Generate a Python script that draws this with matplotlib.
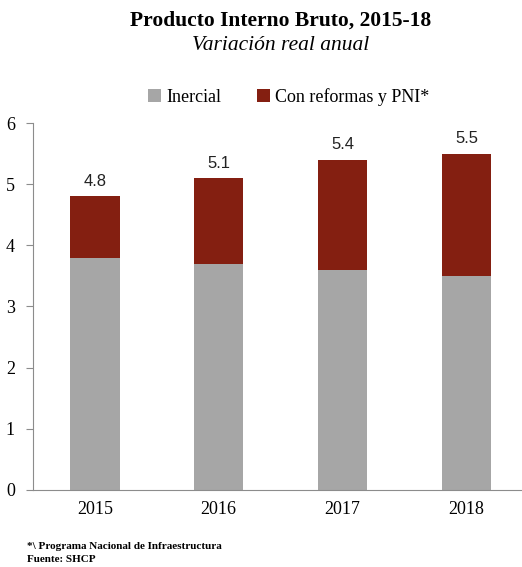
import matplotlib.pyplot as plt
import numpy as np

years = ['2015', '2016', '2017', '2018']
inercial = [3.8, 3.7, 3.6, 3.5]
total = [4.8, 5.1, 5.4, 5.5]
reformas = [t - i for t, i in zip(total, inercial)]

gray = '#a6a6a6'
red = '#841f11'
axis_col = '#8c8c8c'

plt.rcParams['font.family'] = 'Liberation Serif'

fig = plt.figure(figsize=(5.22, 5.67), dpi=100)
ax = fig.add_axes([0.063, 0.136, 0.935, 0.647])

x = np.arange(len(years))
ax.bar(x, inercial, width=0.4, color=gray, label='Inercial')
ax.bar(x, reformas, width=0.4, bottom=inercial, color=red, label='Con reformas y PNI*')

for xi, t in zip(x, total):
    ax.text(xi, t + 0.12, f'{t:.1f}', ha='center', va='bottom', fontsize=12,
            family='Liberation Sans', color='#222222')

ax.set_xlim(-0.5, 3.44)
ax.set_ylim(0, 6)
ax.set_yticks(range(7))
ax.set_xticks(x)
ax.set_xticklabels(years, fontsize=13)
ax.tick_params(axis='y', labelsize=13, length=5, color=axis_col, pad=8)
ax.tick_params(axis='x', length=0, pad=8)
for s in ['top', 'right']:
    ax.spines[s].set_visible(False)
for s in ['left', 'bottom']:
    ax.spines[s].set_color(axis_col)

fig.text(0.537, 0.964, 'Producto Interno Bruto, 2015-18', ha='center', va='center',
         fontsize=15.5, fontweight='bold')
fig.text(0.537, 0.919, 'Variación real anual', ha='center', va='center',
         fontsize=15.5, style='italic')
fig.legend(loc='center', bbox_to_anchor=(0.553, 0.829), ncol=2, frameon=False,
           fontsize=13, handlelength=0.7, handleheight=0.7, handletextpad=0.3,
           columnspacing=2.0)

fig.text(0.052, 0.031, '*\\ Programa Nacional de Infraestructura', fontsize=8, fontweight='bold')
fig.text(0.052, 0.008, 'Fuente: SHCP', fontsize=8, fontweight='bold')

fig.savefig('out.png', dpi=100)
